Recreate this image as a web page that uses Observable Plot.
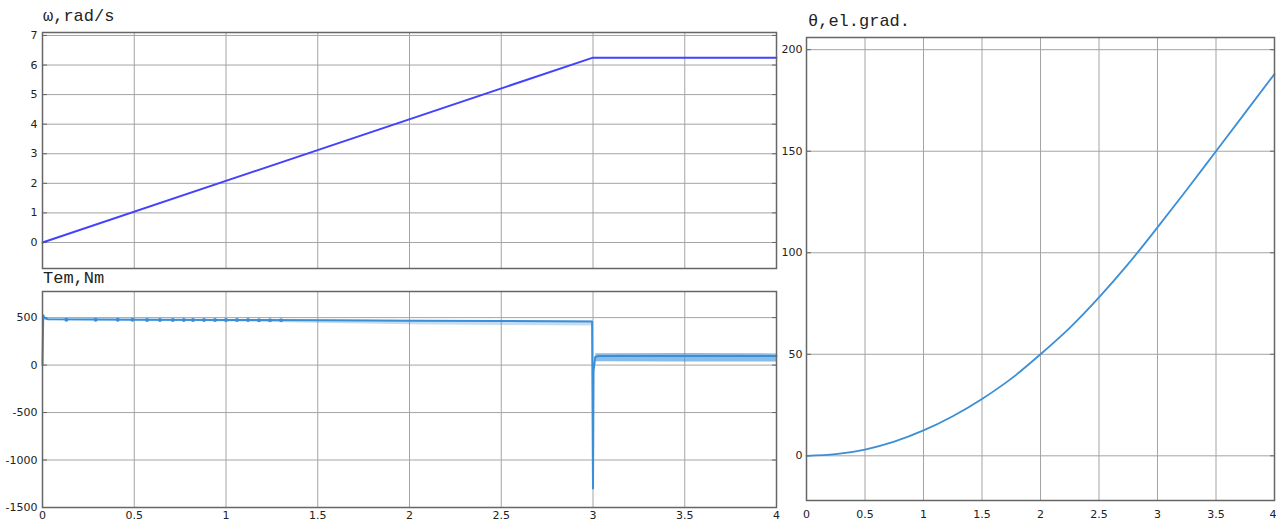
<!DOCTYPE html>
<html><head><meta charset="utf-8">
<script src="https://cdn.jsdelivr.net/npm/d3@7"></script>
<script src="https://cdn.jsdelivr.net/npm/@observablehq/plot@0.6"></script>
<style>
body{margin:0;background:#fff;overflow:hidden}
#wrap{position:relative;width:1276px;height:523px;overflow:hidden;background:#fff}
.ttl{position:absolute;font-family:"Liberation Mono",monospace;font-size:17px;color:#222;line-height:1;white-space:nowrap}
.pl{position:absolute}
</style></head><body><div id="wrap">
<div class="ttl" style="left:43px;top:8px">ω,rad/s</div>
<div class="ttl" style="left:43px;top:270px">Tem,Nm</div>
<div class="ttl" style="left:808px;top:13px">θ,el.grad.</div>
<div class="pl" id="p1" style="left:0;top:27px"></div>
<div class="pl" id="p2" style="left:0;top:286px"></div>
<div class="pl" id="p3" style="left:770px;top:32px"></div>
</div>
<script>
// ---- data ----
const xTicks = [0, 0.5, 1, 1.5, 2, 2.5, 3, 3.5, 4];
const xTickLabels = ["0", "0.5", "1", "1.5", "2", "2.5", "3", "3.5", "4"];
const wTicks = [0, 1, 2, 3, 4, 5, 6, 7];
const tqTicks = [500, 0, -500, -1000, -1500];
const thTicks = [0, 50, 100, 150, 200];

// speed omega, rad/s
const wT = [0, 3, 4];
const wV = [0, 6.25, 6.25];

// electromagnetic torque, Nm (mean trace)
const tqT = [0, 0.004, 0.012, 0.03, 0.5, 1, 1.5, 2, 2.5, 2.995, 3, 3.003, 3.012, 3.03, 3.5, 4];
const tqV = [0, 525, 492, 482, 478, 475, 472, 468, 464, 460, -1300, -60, 85, 95, 96, 96];
// ripple envelope
const rpT1 = [0.03, 0.5, 1, 1.5, 2, 2.5, 2.995];
const rpLo1 = [470, 466, 455, 440, 425, 418, 412];
const rpHi1 = [486, 484, 480, 477, 472, 468, 465];
const rpT2 = [3.015, 3.5, 4];
const rpLo2 = [35, 32, 32];
const rpHi2 = [120, 122, 118];
// ripple blobs along the trace
const blobT = [0.13, 0.29, 0.41, 0.49, 0.57, 0.64, 0.71, 0.77, 0.82, 0.88, 0.94, 1.0, 1.06, 1.12, 1.18, 1.24, 1.3];
const blobV = [478, 478, 477, 477, 476, 476, 476, 475, 475, 475, 475, 474, 474, 474, 473, 473, 473];

// rotor angle theta, el. grad
const thT = [0, 0.25, 0.5, 0.75, 1, 1.25, 1.5, 1.75, 2, 2.25, 2.5, 2.75, 3, 3.25, 3.5, 3.75, 4];
const thV = [0, 0.8, 3.1, 7, 12.5, 19.5, 28, 38, 50, 63, 78, 94.5, 112.5, 131, 150, 169, 188];

// ---- styling ----
const st = {fontFamily: "'DejaVu Sans', sans-serif", fontSize: "11px", color: "#222", background: "transparent", overflow: "visible"};
const GRID = "#a4a4a4", FRAME = "#666", BLUE = "#3b8fd6", WBLUE = "#4242ff";
const fmt = d => `${d}`;
const xLab = d => xTickLabels[xTicks.indexOf(d)];
const xInner = xTicks.slice(0, -1);
const xLast = xTicks.slice(-1);

const p1 = Plot.plot({
  width: 778, height: 243, marginLeft: 42, marginRight: 2, marginTop: 5, marginBottom: 2,
  style: st,
  x: {domain: [0, 4], axis: null, label: null},
  y: {domain: [-0.88, 7.1], label: null},
  marks: [
    Plot.gridX(xTicks, {stroke: GRID, strokeOpacity: 1}),
    Plot.gridY(wTicks, {stroke: GRID, strokeOpacity: 1}),
    Plot.axisY(wTicks, {tickSize: -5, tickPadding: 10, tickFormat: fmt, stroke: FRAME, fill: "#222", label: null}),
    Plot.axisY(wTicks, {anchor: "right", tickSize: -5, tickFormat: () => "", stroke: FRAME, label: null}),
    Plot.line(wT.map((t, i) => ({t, v: wV[i]})), {x: "t", y: "v", stroke: WBLUE, strokeWidth: 2}),
    Plot.frame({stroke: FRAME, strokeWidth: 1.5})
  ]
});
document.getElementById("p1").append(p1);

const tqData = tqT.map((t, i) => ({t, v: tqV[i]}));
const rp1 = rpT1.map((t, i) => ({t, lo: rpLo1[i], hi: rpHi1[i]}));
const rp2 = rpT2.map((t, i) => ({t, lo: rpLo2[i], hi: rpHi2[i]}));
const blobs = blobT.map((t, i) => ({t, v: blobV[i]}));

const p2 = Plot.plot({
  width: 778, height: 251, marginLeft: 42, marginRight: 2, marginTop: 5, marginBottom: 30,
  style: st,
  x: {domain: [0, 4], label: null},
  y: {domain: [-1500, 775], label: null},
  marks: [
    Plot.gridX(xTicks, {stroke: GRID, strokeOpacity: 1}),
    Plot.gridY(tqTicks, {stroke: GRID, strokeOpacity: 1}),
    Plot.axisY(tqTicks, {tickSize: -5, tickPadding: 10, tickFormat: fmt, stroke: FRAME, fill: "#222", label: null}),
    Plot.axisY(tqTicks, {anchor: "right", tickSize: -5, tickFormat: () => "", stroke: FRAME, label: null}),
    Plot.axisX(xTicks, {tickSize: 0, tickPadding: 4, tickFormat: xLab, fill: "#222", label: null}),
    Plot.areaY(rp1, {x: "t", y1: "lo", y2: "hi", fill: BLUE, fillOpacity: 0.3}),
    Plot.areaY(rp2, {x: "t", y1: "lo", y2: "hi", fill: BLUE, fillOpacity: 0.6}),
    Plot.line(tqData, {x: "t", y: "v", stroke: BLUE, strokeWidth: 2}),
    Plot.dot(blobs, {x: "t", y: "v", r: 2, fill: BLUE}),
    Plot.frame({stroke: FRAME, strokeWidth: 1.5})
  ]
});
document.getElementById("p2").append(p2);

const p3 = Plot.plot({
  width: 506, height: 493, marginLeft: 36, marginRight: 2, marginTop: 5, marginBottom: 25,
  style: st,
  x: {domain: [0, 4], label: null},
  y: {domain: [-22, 206], label: null},
  marks: [
    Plot.gridX(xTicks, {stroke: GRID, strokeOpacity: 1}),
    Plot.gridY(thTicks, {stroke: GRID, strokeOpacity: 1}),
    Plot.axisY(thTicks, {tickSize: -5, tickPadding: 9, tickFormat: fmt, stroke: FRAME, fill: "#222", label: null}),
    Plot.axisY(thTicks, {anchor: "right", tickSize: -5, tickFormat: () => "", stroke: FRAME, label: null}),
    Plot.axisX(xInner, {tickSize: 0, tickPadding: 10, tickFormat: xLab, fill: "#222", label: null}),
    Plot.axisX(xLast, {tickSize: 0, tickPadding: 10, tickFormat: xLab, fill: "#222", label: null, textAnchor: "end", dx: 2}),
    Plot.line(thT.map((t, i) => ({t, v: thV[i]})), {x: "t", y: "v", stroke: BLUE, strokeWidth: 1.8, curve: "monotone-x"}),
    Plot.frame({stroke: FRAME, strokeWidth: 1.5})
  ]
});
document.getElementById("p3").append(p3);
</script>
</body></html>
